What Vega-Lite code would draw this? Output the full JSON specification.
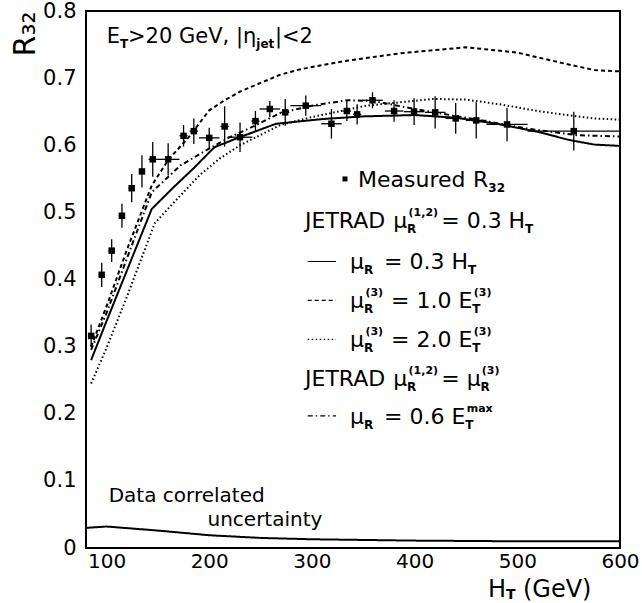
{
  "$schema": "https://vega.github.io/schema/vega-lite/v6.json",
  "width": 534,
  "height": 537,
  "autosize": {"type": "none"},
  "padding": {"left": 86, "top": 11, "right": 22, "bottom": 55},
  "background": "white",
  "config": {
    "font": "DejaVu Sans",
    "view": {"stroke": "black", "strokeWidth": 2},
    "axis": {"domain": false, "ticks": false, "grid": false, "labelFont": "DejaVu Sans", "labelFontSize": 21, "labelColor": "black", "labelFlush": false, "labelOverlap": false, "titleColor": "black", "titleFontWeight": "normal"},
    "text": {"font": "DejaVu Sans", "color": "black", "align": "left", "baseline": "alphabetic"}
  },
  "datasets": {
    "curves": [
      {"series": "mu03HT", "x": 85, "y": 0.280}, {"series": "mu03HT", "x": 100, "y": 0.338}, {"series": "mu03HT", "x": 120, "y": 0.414}, {"series": "mu03HT", "x": 144, "y": 0.505}, {"series": "mu03HT", "x": 165, "y": 0.537}, {"series": "mu03HT", "x": 185, "y": 0.566}, {"series": "mu03HT", "x": 205, "y": 0.597}, {"series": "mu03HT", "x": 228, "y": 0.611}, {"series": "mu03HT", "x": 265, "y": 0.632}, {"series": "mu03HT", "x": 310, "y": 0.639}, {"series": "mu03HT", "x": 350, "y": 0.643}, {"series": "mu03HT", "x": 400, "y": 0.645}, {"series": "mu03HT", "x": 440, "y": 0.641}, {"series": "mu03HT", "x": 480, "y": 0.632}, {"series": "mu03HT", "x": 520, "y": 0.620}, {"series": "mu03HT", "x": 550, "y": 0.608}, {"series": "mu03HT", "x": 575, "y": 0.601}, {"series": "mu03HT", "x": 600, "y": 0.599},
      {"series": "ET3_1", "x": 85, "y": 0.300}, {"series": "ET3_1", "x": 100, "y": 0.360}, {"series": "ET3_1", "x": 120, "y": 0.445}, {"series": "ET3_1", "x": 144, "y": 0.540}, {"series": "ET3_1", "x": 160, "y": 0.578}, {"series": "ET3_1", "x": 180, "y": 0.612}, {"series": "ET3_1", "x": 200, "y": 0.652}, {"series": "ET3_1", "x": 215, "y": 0.667}, {"series": "ET3_1", "x": 230, "y": 0.680}, {"series": "ET3_1", "x": 269, "y": 0.705}, {"series": "ET3_1", "x": 288, "y": 0.713}, {"series": "ET3_1", "x": 330, "y": 0.725}, {"series": "ET3_1", "x": 386, "y": 0.737}, {"series": "ET3_1", "x": 450, "y": 0.746}, {"series": "ET3_1", "x": 500, "y": 0.738}, {"series": "ET3_1", "x": 548, "y": 0.721}, {"series": "ET3_1", "x": 575, "y": 0.712}, {"series": "ET3_1", "x": 600, "y": 0.710},
      {"series": "ET3_2", "x": 85, "y": 0.245}, {"series": "ET3_2", "x": 100, "y": 0.298}, {"series": "ET3_2", "x": 120, "y": 0.375}, {"series": "ET3_2", "x": 147, "y": 0.484}, {"series": "ET3_2", "x": 170, "y": 0.522}, {"series": "ET3_2", "x": 191, "y": 0.556}, {"series": "ET3_2", "x": 210, "y": 0.580}, {"series": "ET3_2", "x": 230, "y": 0.600}, {"series": "ET3_2", "x": 269, "y": 0.630}, {"series": "ET3_2", "x": 300, "y": 0.642}, {"series": "ET3_2", "x": 353, "y": 0.659}, {"series": "ET3_2", "x": 418, "y": 0.669}, {"series": "ET3_2", "x": 450, "y": 0.668}, {"series": "ET3_2", "x": 483, "y": 0.661}, {"series": "ET3_2", "x": 520, "y": 0.651}, {"series": "ET3_2", "x": 548, "y": 0.645}, {"series": "ET3_2", "x": 575, "y": 0.640}, {"series": "ET3_2", "x": 600, "y": 0.638},
      {"series": "ETmax", "x": 85, "y": 0.295}, {"series": "ETmax", "x": 100, "y": 0.350}, {"series": "ETmax", "x": 120, "y": 0.432}, {"series": "ETmax", "x": 144, "y": 0.530}, {"series": "ETmax", "x": 172, "y": 0.570}, {"series": "ETmax", "x": 200, "y": 0.595}, {"series": "ETmax", "x": 220, "y": 0.612}, {"series": "ETmax", "x": 243, "y": 0.628}, {"series": "ETmax", "x": 269, "y": 0.648}, {"series": "ETmax", "x": 300, "y": 0.659}, {"series": "ETmax", "x": 334, "y": 0.667}, {"series": "ETmax", "x": 360, "y": 0.666}, {"series": "ETmax", "x": 400, "y": 0.654}, {"series": "ETmax", "x": 450, "y": 0.641}, {"series": "ETmax", "x": 509, "y": 0.625}, {"series": "ETmax", "x": 558, "y": 0.615}, {"series": "ETmax", "x": 600, "y": 0.613},
      {"series": "corr", "x": 80, "y": 0.030}, {"series": "corr", "x": 100, "y": 0.032}, {"series": "corr", "x": 150, "y": 0.026}, {"series": "corr", "x": 200, "y": 0.019}, {"series": "corr", "x": 250, "y": 0.015}, {"series": "corr", "x": 300, "y": 0.013}, {"series": "corr", "x": 400, "y": 0.011}, {"series": "corr", "x": 500, "y": 0.010}, {"series": "corr", "x": 600, "y": 0.010}
    ],
    "points": [
      {"x": 85, "y": 0.316, "xerr": 3, "yerr": 0.017}, {"x": 95.3, "y": 0.407, "xerr": 3, "yerr": 0.018}, {"x": 105, "y": 0.443, "xerr": 3, "yerr": 0.017}, {"x": 115, "y": 0.495, "xerr": 3, "yerr": 0.018}, {"x": 124.5, "y": 0.536, "xerr": 3, "yerr": 0.021}, {"x": 134.5, "y": 0.561, "xerr": 3, "yerr": 0.024}, {"x": 145, "y": 0.579, "xerr": 4, "yerr": 0.026}, {"x": 160, "y": 0.579, "xerr": 11, "yerr": 0.024}, {"x": 175, "y": 0.614, "xerr": 4, "yerr": 0.016}, {"x": 185, "y": 0.621, "xerr": 4, "yerr": 0.019}, {"x": 200, "y": 0.611, "xerr": 10, "yerr": 0.015}, {"x": 215, "y": 0.628, "xerr": 4, "yerr": 0.030}, {"x": 230, "y": 0.612, "xerr": 12, "yerr": 0.022}, {"x": 245, "y": 0.636, "xerr": 4, "yerr": 0.015}, {"x": 259, "y": 0.654, "xerr": 10, "yerr": 0.012}, {"x": 274, "y": 0.649, "xerr": 4, "yerr": 0.020}, {"x": 294, "y": 0.659, "xerr": 15, "yerr": 0.015}, {"x": 319, "y": 0.632, "xerr": 10, "yerr": 0.022}, {"x": 334, "y": 0.651, "xerr": 4, "yerr": 0.015}, {"x": 344, "y": 0.646, "xerr": 4, "yerr": 0.015}, {"x": 359, "y": 0.667, "xerr": 10, "yerr": 0.012}, {"x": 380, "y": 0.651, "xerr": 9, "yerr": 0.016}, {"x": 399.5, "y": 0.650, "xerr": 10, "yerr": 0.020}, {"x": 420, "y": 0.649, "xerr": 10, "yerr": 0.024}, {"x": 440, "y": 0.640, "xerr": 10, "yerr": 0.023}, {"x": 460, "y": 0.637, "xerr": 10, "yerr": 0.027}, {"x": 490, "y": 0.631, "xerr": 20, "yerr": 0.025}, {"x": 555, "y": 0.621, "xerr": 45, "yerr": 0.029}
    ],
    "samples": [
      {"series": "mu03HT", "x": 295.9, "x2": 323.4, "y": 0.4268},
      {"series": "ET3_1", "x": 295.9, "x2": 323.4, "y": 0.3688},
      {"series": "ET3_2", "x": 295.9, "x2": 323.4, "y": 0.3108},
      {"series": "ETmax", "x": 295.9, "x2": 323.4, "y": 0.1968}
    ],
    "legendmark": [{"x": 332.2, "y": 0.5498}],
    "yticks": [{"y": 0}, {"y": 0.02}, {"y": 0.04}, {"y": 0.06}, {"y": 0.08}, {"y": 0.1}, {"y": 0.12}, {"y": 0.14}, {"y": 0.16}, {"y": 0.18}, {"y": 0.2}, {"y": 0.22}, {"y": 0.24}, {"y": 0.26}, {"y": 0.28}, {"y": 0.3}, {"y": 0.32}, {"y": 0.34}, {"y": 0.36}, {"y": 0.38}, {"y": 0.4}, {"y": 0.42}, {"y": 0.44}, {"y": 0.46}, {"y": 0.48}, {"y": 0.5}, {"y": 0.52}, {"y": 0.54}, {"y": 0.56}, {"y": 0.58}, {"y": 0.6}, {"y": 0.62}, {"y": 0.64}, {"y": 0.66}, {"y": 0.68}, {"y": 0.7}, {"y": 0.72}, {"y": 0.74}, {"y": 0.76}, {"y": 0.78}, {"y": 0.8}],
    "xticks": [{"x": 100}, {"x": 200}, {"x": 300}, {"x": 400}, {"x": 500}],
    "texts": [
      {"role": "main", "x": 344.9, "y": 0.538, "text": "Measured"},
      {"role": "main", "x": 456.8, "y": 0.538, "text": "R"},
      {"role": "sub", "x": 471.8, "y": 0.538, "text": "32"},
      {"role": "main", "x": 293.3, "y": 0.477, "text": "JETRAD"},
      {"role": "main", "x": 379.1, "y": 0.477, "text": "μ"},
      {"role": "sub", "x": 392.7, "y": 0.477, "text": "R"},
      {"role": "sup", "x": 394.1, "y": 0.477, "text": "(1,2)"},
      {"role": "main", "x": 425.9, "y": 0.477, "text": "= 0.3 H"},
      {"role": "sub", "x": 507.5, "y": 0.477, "text": "T"},
      {"role": "main", "x": 337.1, "y": 0.415, "text": "μ"},
      {"role": "sub", "x": 350.7, "y": 0.415, "text": "R"},
      {"role": "main", "x": 370.2, "y": 0.415, "text": "= 0.3 H"},
      {"role": "sub", "x": 451.9, "y": 0.415, "text": "T"},
      {"role": "main", "x": 337.1, "y": 0.357, "text": "μ"},
      {"role": "sub", "x": 350.7, "y": 0.357, "text": "R"},
      {"role": "sup", "x": 352.1, "y": 0.357, "text": "(3)"},
      {"role": "main", "x": 377.0, "y": 0.357, "text": "= 1.0 E"},
      {"role": "sub", "x": 456.2, "y": 0.357, "text": "T"},
      {"role": "sup", "x": 457.6, "y": 0.357, "text": "(3)"},
      {"role": "main", "x": 337.1, "y": 0.299, "text": "μ"},
      {"role": "sub", "x": 350.7, "y": 0.299, "text": "R"},
      {"role": "sup", "x": 352.1, "y": 0.299, "text": "(3)"},
      {"role": "main", "x": 377.0, "y": 0.299, "text": "= 2.0 E"},
      {"role": "sub", "x": 456.2, "y": 0.299, "text": "T"},
      {"role": "sup", "x": 457.6, "y": 0.299, "text": "(3)"},
      {"role": "main", "x": 293.3, "y": 0.242, "text": "JETRAD"},
      {"role": "main", "x": 379.1, "y": 0.242, "text": "μ"},
      {"role": "sub", "x": 392.7, "y": 0.242, "text": "R"},
      {"role": "sup", "x": 394.1, "y": 0.242, "text": "(1,2)"},
      {"role": "main", "x": 425.9, "y": 0.242, "text": "= μ"},
      {"role": "sub", "x": 464.1, "y": 0.242, "text": "R"},
      {"role": "sup", "x": 465.4, "y": 0.242, "text": "(3)"},
      {"role": "main", "x": 337.1, "y": 0.185, "text": "μ"},
      {"role": "sub", "x": 350.7, "y": 0.185, "text": "R"},
      {"role": "main", "x": 370.2, "y": 0.185, "text": "= 0.6 E"},
      {"role": "sub", "x": 449.3, "y": 0.185, "text": "T"},
      {"role": "sup", "x": 450.7, "y": 0.185, "text": "max"},
      {"role": "top", "x": 100.2, "y": 0.752, "text": "E"},
      {"role": "topsub", "x": 113.1, "y": 0.752, "text": "T"},
      {"role": "top", "x": 120.9, "y": 0.752, "text": ">20 GeV, |η"},
      {"role": "topsub", "x": 245.8, "y": 0.752, "text": "jet"},
      {"role": "top", "x": 264.0, "y": 0.752, "text": "|<2"},
      {"role": "note", "x": 102.1, "y": 0.069, "text": "Data correlated"},
      {"role": "note", "x": 198.3, "y": 0.033, "text": "uncertainty"},
      {"role": "xt", "x": 471.4, "y": -0.073, "text": "H"},
      {"role": "xtsub", "x": 488.9, "y": -0.073, "text": "T"},
      {"role": "xt", "x": 505.5, "y": -0.073, "text": "(GeV)"}
    ]
  },
  "encoding": {
    "x": {"field": "x", "type": "quantitative", "scale": {"domain": [80, 600], "nice": false, "zero": false},
      "axis": {"title": null, "values": [100, 200, 300, 400, 500, 600], "format": "d", "labelPadding": 3, "labelFontSize": 20}},
    "y": {"field": "y", "type": "quantitative", "scale": {"domain": [0, 0.8], "nice": false, "zero": false},
      "axis": {"title": "R₃₂", "titleFontSize": 30, "titleFont": "DejaVu Sans", "titleAngle": 270, "titleAlign": "right", "titleBaseline": "alphabetic", "titleX": -52, "titleY": 0,
        "values": [0, 0.1, 0.2, 0.3, 0.4, 0.5, 0.6, 0.7, 0.8],
        "labelExpr": "datum.value < 0.001 ? '0' : format(datum.value, '.1f')",
        "labelPadding": 10}}
  },
  "layer": [
    {"data": {"name": "yticks"}, "transform": [{"filter": "abs(datum.y*10 - round(datum.y*10)) < 0.001"}], "mark": {"type": "rule", "color": "black", "strokeWidth": 1.3},
      "encoding": {"x": {"datum": 80, "type": "quantitative"}, "x2": {"datum": 89.74}}},
    {"data": {"name": "yticks"}, "transform": [{"filter": "abs(datum.y*10 - round(datum.y*10)) >= 0.001"}], "mark": {"type": "rule", "color": "black", "strokeWidth": 1.3},
      "encoding": {"x": {"datum": 80, "type": "quantitative"}, "x2": {"datum": 85.84}}},
    {"data": {"name": "xticks"}, "mark": {"type": "rule", "color": "black", "strokeWidth": 1.3},
      "encoding": {"y": {"datum": 0, "type": "quantitative"}, "y2": {"datum": 0.0164}}},
    {"data": {"name": "curves"}, "mark": {"type": "line", "color": "black"},
      "encoding": {
        "detail": {"field": "series"},
        "strokeDash": {"field": "series", "type": "nominal", "legend": null, "scale": {"domain": ["mu03HT", "ET3_1", "ET3_2", "ETmax", "corr"], "range": [[1, 0], [4, 3], [1.5, 2.5], [5, 3, 1.5, 3], [1, 0]]}},
        "strokeWidth": {"field": "series", "type": "nominal", "legend": null, "scale": {"domain": ["mu03HT", "ET3_1", "ET3_2", "ETmax", "corr"], "range": [2, 2, 1.6, 1.6, 1.2]}}
      }},
    {"data": {"name": "samples"}, "mark": {"type": "rule", "color": "black", "strokeWidth": 1.2},
      "encoding": {"x2": {"field": "x2"}, "strokeDash": {"field": "series", "type": "nominal", "legend": null}}},
    {"data": {"name": "points"}, "mark": {"type": "errorbar", "color": "black", "thickness": 1.3},
      "encoding": {"yError": {"field": "yerr"}}},
    {"data": {"name": "points"}, "mark": {"type": "errorbar", "color": "black", "thickness": 1.3},
      "encoding": {"xError": {"field": "xerr"}}},
    {"data": {"name": "points"}, "mark": {"type": "point", "shape": "square", "filled": true, "color": "black", "size": 42, "opacity": 1}},
    {"data": {"name": "legendmark"}, "mark": {"type": "point", "shape": "square", "filled": true, "color": "black", "size": 25, "opacity": 1}},
    {"data": {"name": "texts"}, "transform": [{"filter": "datum.role == 'main'"}], "mark": {"type": "text", "fontSize": 22}, "encoding": {"text": {"field": "text"}}},
    {"data": {"name": "texts"}, "transform": [{"filter": "datum.role == 'sub'"}], "mark": {"type": "text", "fontSize": 12, "fontWeight": "bold", "dy": 5}, "encoding": {"text": {"field": "text"}}},
    {"data": {"name": "texts"}, "transform": [{"filter": "datum.role == 'sup'"}], "mark": {"type": "text", "fontSize": 11, "fontWeight": "bold", "dy": -12}, "encoding": {"text": {"field": "text"}}},
    {"data": {"name": "texts"}, "transform": [{"filter": "datum.role == 'top'"}], "mark": {"type": "text", "fontSize": 21}, "encoding": {"text": {"field": "text"}}},
    {"data": {"name": "texts"}, "transform": [{"filter": "datum.role == 'topsub'"}], "mark": {"type": "text", "fontSize": 12, "fontWeight": "bold", "dy": 5}, "encoding": {"text": {"field": "text"}}},
    {"data": {"name": "texts"}, "transform": [{"filter": "datum.role == 'note'"}], "mark": {"type": "text", "fontSize": 20}, "encoding": {"text": {"field": "text"}}},
    {"data": {"name": "texts"}, "transform": [{"filter": "datum.role == 'xt'"}], "mark": {"type": "text", "fontSize": 24}, "encoding": {"text": {"field": "text"}}},
    {"data": {"name": "texts"}, "transform": [{"filter": "datum.role == 'xtsub'"}], "mark": {"type": "text", "fontSize": 14, "fontWeight": "bold", "dy": 2}, "encoding": {"text": {"field": "text"}}}
  ]
}
